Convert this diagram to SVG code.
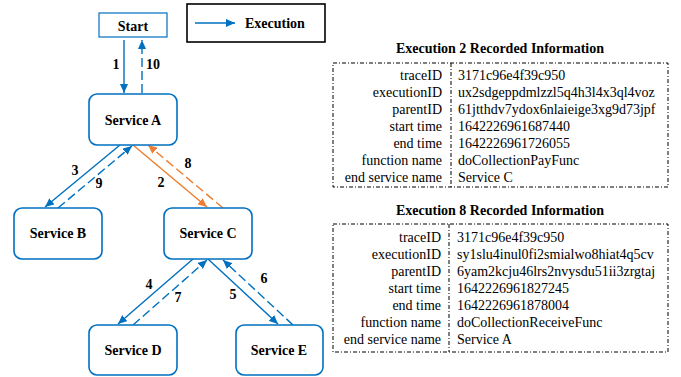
<svg xmlns="http://www.w3.org/2000/svg" width="681" height="377" viewBox="0 0 681 377">
<style>
.box{fill:#fff;stroke:#0070C0;stroke-width:1.6}
.lbl{font-family:"Liberation Serif","Times New Roman",serif;font-weight:bold;font-size:14px;fill:#000;text-anchor:middle}
.b{stroke:#0070C0;stroke-width:1.4;fill:none}
.o{stroke:#ED7D31;stroke-width:1.4;fill:none}
.d{stroke-dasharray:9 4}
.tbl{fill:none;stroke:#000;stroke-width:1;stroke-dasharray:4 2 1 2}
.k{font-family:"Liberation Serif","Times New Roman",serif;font-size:14px;fill:#000;text-anchor:end}
.v{font-family:"Liberation Serif","Times New Roman",serif;font-size:14px;fill:#000}
</style>
<defs>
<marker id="ab" markerUnits="userSpaceOnUse" markerWidth="10" markerHeight="8" refX="9" refY="4" orient="auto"><path d="M0,0 L9,4 L0,8 Z" fill="#0070C0"/></marker>
<marker id="ao" markerUnits="userSpaceOnUse" markerWidth="10" markerHeight="8" refX="9" refY="4" orient="auto"><path d="M0,0 L9,4 L0,8 Z" fill="#ED7D31"/></marker>
</defs>
<g id="legend">
<rect x="187" y="4" width="138" height="38" fill="#fff" stroke="#000" stroke-width="1.6"/>
<line x1="195" y1="23" x2="235" y2="23" class="b" marker-end="url(#ab)"/>
<text x="245" y="28" class="lbl" style="text-anchor:start">Execution</text>
</g>
<g id="connectors">
<line x1="124" y1="40" x2="124" y2="93" class="b" marker-end="url(#ab)"/>
<line x1="142" y1="93" x2="142" y2="40" class="b d" marker-end="url(#ab)"/>
<line x1="120" y1="145" x2="45" y2="207" class="b" marker-end="url(#ab)"/>
<line x1="58" y1="208" x2="132" y2="146" class="b d" marker-end="url(#ab)"/>
<line x1="133" y1="145" x2="207" y2="207" class="o" marker-end="url(#ao)"/>
<line x1="223" y1="208" x2="148" y2="145" class="o d" marker-end="url(#ao)"/>
<line x1="193" y1="259" x2="118" y2="324" class="b" marker-end="url(#ab)"/>
<line x1="133" y1="325" x2="207" y2="260" class="b d" marker-end="url(#ab)"/>
<line x1="208" y1="259" x2="278" y2="324" class="b" marker-end="url(#ab)"/>
<line x1="293" y1="325" x2="223" y2="260" class="b d" marker-end="url(#ab)"/>
<text x="116" y="69" class="lbl">1</text>
<text x="153" y="69" class="lbl">10</text>
<text x="75" y="175" class="lbl">3</text>
<text x="99" y="188" class="lbl">9</text>
<text x="161" y="187" class="lbl">2</text>
<text x="188" y="168" class="lbl">8</text>
<text x="149" y="289" class="lbl">4</text>
<text x="178" y="302" class="lbl">7</text>
<text x="233" y="299" class="lbl">5</text>
<text x="264" y="283" class="lbl">6</text>
</g>
<g id="start"><rect x="99" y="13" width="68" height="24" fill="#fff" stroke="#0070C0" stroke-width="1.2"/><text x="133" y="31" class="lbl">Start</text></g>
<g id="serviceA"><rect x="89" y="94" width="88" height="51" rx="8" class="box"/><text x="133" y="125" class="lbl">Service A</text></g>
<g id="serviceB"><rect x="14" y="208" width="88" height="51" rx="8" class="box"/><text x="58" y="238" class="lbl">Service B</text></g>
<g id="serviceC"><rect x="164" y="208" width="88" height="51" rx="8" class="box"/><text x="208" y="238" class="lbl">Service C</text></g>
<g id="serviceD"><rect x="89" y="325" width="88" height="50" rx="8" class="box"/><text x="133" y="355" class="lbl">Service D</text></g>
<g id="serviceE"><rect x="236" y="325" width="87" height="50" rx="8" class="box"/><text x="279" y="355" class="lbl">Service E</text></g>
<g id="table2">
<text x="500" y="53" class="lbl">Execution 2 Recorded Information</text>
<rect x="333" y="63" width="335" height="124" class="tbl"/>
<line x1="451" y1="63" x2="451" y2="187" class="tbl"/>
<text x="442" y="80" class="k">traceID</text><text x="458" y="80" class="v">3171c96e4f39c950</text>
<text x="442" y="97" class="k">executionID</text><text x="458" y="97" class="v">ux2sdgeppdmlzzl5q4h3l4x3ql4voz</text>
<text x="442" y="114" class="k">parentID</text><text x="458" y="114" class="v">61jtthdv7ydox6nlaieige3xg9d73jpf</text>
<text x="442" y="131" class="k">start time</text><text x="458" y="131" class="v">1642226961687440</text>
<text x="442" y="148" class="k">end time</text><text x="458" y="148" class="v">1642226961726055</text>
<text x="442" y="165" class="k">function name</text><text x="458" y="165" class="v">doCollectionPayFunc</text>
<text x="442" y="182" class="k">end service name</text><text x="458" y="182" class="v">Service C</text>
</g>
<g id="table8">
<text x="500" y="215" class="lbl">Execution 8 Recorded Information</text>
<rect x="333" y="224" width="335" height="128" class="tbl"/>
<line x1="449" y1="224" x2="449" y2="352" class="tbl"/>
<text x="441" y="242" class="k">traceID</text><text x="457" y="242" class="v">3171c96e4f39c950</text>
<text x="441" y="259" class="k">executionID</text><text x="457" y="259" class="v">sy1slu4inul0fi2smialwo8hiat4q5cv</text>
<text x="441" y="276" class="k">parentID</text><text x="457" y="276" class="v">6yam2kcju46lrs2nvysdu51ii3zrgtaj</text>
<text x="441" y="293" class="k">start time</text><text x="457" y="293" class="v">1642226961827245</text>
<text x="441" y="310" class="k">end time</text><text x="457" y="310" class="v">1642226961878004</text>
<text x="441" y="327" class="k">function name</text><text x="457" y="327" class="v">doCollectionReceiveFunc</text>
<text x="441" y="344" class="k">end service name</text><text x="457" y="344" class="v">Service A</text>
</g>
</svg>
